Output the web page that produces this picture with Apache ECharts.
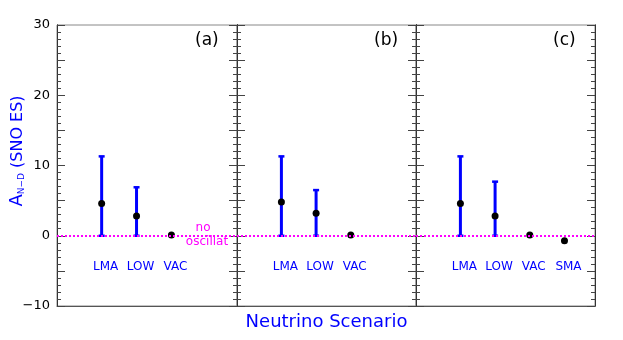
<!DOCTYPE html>
<html>
<head>
<meta charset="utf-8">
<script src="https://cdn.jsdelivr.net/npm/echarts@6/dist/echarts.min.js"></script>
<style>html,body{margin:0;padding:0;background:#fff;}#c{width:623px;height:340px;}</style>
</head>
<body>
<div id="c"></div>
<script>
// ---- data ----
const scenarios = ['LMA', 'LOW', 'VAC', 'SMA'];
const panelLabels = ['(a)', '(b)', '(c)'];
const centralA = [4.6, 2.8, 0.1];
const centralB = [4.8, 3.2, 0.1];
const centralC = [4.6, 2.8, 0.1, -0.7];
const upperA = [11.3, 6.9, null];
const upperB = [11.3, 6.5, null];
const upperC = [11.3, 7.7, null, null];
const lowerA = [0, 0, null];
const lowerB = [0, 0, null];
const lowerC = [0, 0, null, null];
const yTicks = [-10, 0, 10, 20, 30];
const noOscValue = 0;
const scenarioLabelValue = -4.5;

// ---- layout ----
const FONT = '"DejaVu Sans", sans-serif';
const gridTop = 25, gridH = 281;
const gridLefts = [57, 237, 416];
const gridWs = [180, 179, 179];
const panels = [
  {c: centralA, u: upperA, l: lowerA},
  {c: centralB, u: upperB, l: lowerB},
  {c: centralC, u: upperC, l: lowerC}
];

const grids = [], xAxes = [], yAxes = [], series = [];
panels.forEach((p, i) => {
  grids.push({left: gridLefts[i], top: gridTop, width: gridWs[i], height: gridH,
    show: true, borderColor: '#888', borderWidth: 1, containLabel: false});
  xAxes.push({gridIndex: i, type: 'value', min: -0.28, max: 4.88,
    axisLine: {show: true, onZero: false, lineStyle: {color: '#555', width: 1}},
    axisTick: {show: false}, axisLabel: {show: false}, splitLine: {show: false}});
  let yi = -1;
  ['left', 'right'].forEach(pos => {
    [[1, 4], [5, 8]].forEach(([iv, len], m) => {
      if (pos === 'left' && m === 0) yi = yAxes.length;
      yAxes.push({gridIndex: i, type: 'value', position: pos, offset: 0,
        min: yTicks[0], max: yTicks[yTicks.length - 1], interval: iv,
        axisLine: {show: true, onZero: false, lineStyle: {color: '#333', width: 1}},
        axisTick: {show: true, inside: true, length: len, lineStyle: {color: '#444'}},
        splitLine: {show: false},
        axisLabel: {show: i === 0 && pos === 'left' && m === 0, margin: 7, color: '#000', fontSize: 13, fontFamily: FONT,
          formatter: v => yTicks.indexOf(v) >= 0 ? String(v).replace('-', '\u2212') : ''}
      });
    });
  });
  // error bars
  const errData = [];
  p.c.forEach((v, k) => { if (p.u[k] != null) errData.push([k + 1, p.l[k], p.u[k]]); });
  series.push({
    type: 'custom', xAxisIndex: i, yAxisIndex: yi, data: errData, z: 3,
    renderItem: (params, api) => {
      const x = api.value(0), lo = api.value(1), hi = api.value(2);
      const a = api.coord([x, hi]), b = api.coord([x, lo]);
      const cw = 3;
      const st = {stroke: '#0000ff', lineWidth: 3};
      const sc = {stroke: '#0000ff', lineWidth: 2.5};
      return {type: 'group', children: [
        {type: 'line', shape: {x1: a[0], y1: a[1], x2: b[0], y2: b[1]}, style: st},
        {type: 'line', shape: {x1: a[0] - cw, y1: a[1], x2: a[0] + cw, y2: a[1]}, style: sc},
        {type: 'line', shape: {x1: b[0] - cw, y1: b[1], x2: b[0] + cw, y2: b[1]}, style: sc}
      ]};
    }
  });
  // central points
  series.push({
    type: 'scatter', xAxisIndex: i, yAxisIndex: yi, z: 4,
    symbol: 'circle', symbolSize: 7, itemStyle: {color: '#000', opacity: 1},
    data: p.c.map((v, k) => [k + 1, v]),
    markLine: {silent: true, symbol: 'none', label: {show: false},
      lineStyle: {color: '#ff00ff', type: [2, 2], width: 2, opacity: 1},
      data: [{yAxis: noOscValue}]}
  });
  // scenario labels
  series.push({
    type: 'scatter', xAxisIndex: i, yAxisIndex: yi, symbolSize: 0, silent: true,
    itemStyle: {opacity: 1},
    data: p.c.map((v, k) => ({value: [k + 1, scenarioLabelValue], name: scenarios[k]})),
    label: {show: true, position: 'inside', offset: [4, 0], formatter: d => d.name,
      color: '#0000ff', opacity: 1, fontSize: 12, fontFamily: FONT}
  });
});

const graphics = [];
panelLabels.forEach((t, i) => {
  graphics.push({type: 'text', left: gridLefts[i] + gridWs[i] - 42, top: 32,
    style: {text: t, fontSize: 17, fontFamily: FONT, fill: '#000'}});
});
graphics.push({type: 'text', x: 326.5, y: 322,
  style: {text: 'Neutrino Scenario', fontSize: 18, fontFamily: FONT, fill: '#0000ff', align: 'center', verticalAlign: 'middle'}});
graphics.push({type: 'text', x: 203, y: 227.5,
  style: {text: 'no', fontSize: 12, fontFamily: FONT, fill: '#ff00ff', align: 'center', verticalAlign: 'middle'}});
graphics.push({type: 'text', x: 207, y: 241.5,
  style: {text: 'oscillat', fontSize: 12, fontFamily: FONT, fill: '#ff00ff', align: 'center', verticalAlign: 'middle'}});
graphics.push({type: 'text', x: 17, y: 151, rotation: Math.PI / 2,
  style: {text: '{a|A}{s|N\u2212D}{b| (SNO ES)}', align: 'center', verticalAlign: 'middle', fill: '#0000ff',
    rich: {
      a: {fontSize: 18, fontFamily: FONT, fill: '#0000ff', verticalAlign: 'bottom'},
      s: {fontSize: 9, fontFamily: FONT, fill: '#0000ff', verticalAlign: 'bottom'},
      b: {fontSize: 16, fontFamily: FONT, fill: '#0000ff', verticalAlign: 'bottom'}
    }}});

const chart = echarts.init(document.getElementById('c'), null, {renderer: 'canvas'});
chart.setOption({
  animation: false,
  backgroundColor: '#fff',
  grid: grids, xAxis: xAxes, yAxis: yAxes, series: series, graphic: graphics
});
</script>
</body>
</html>
